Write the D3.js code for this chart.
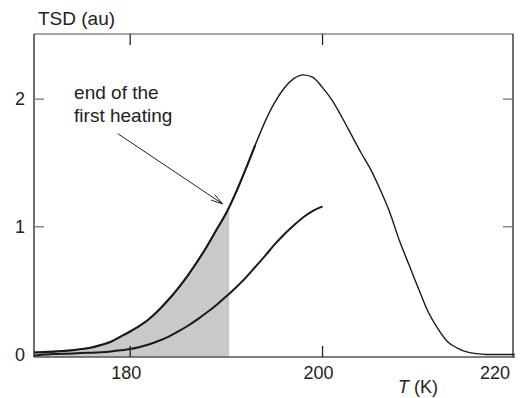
<!DOCTYPE html>
<html>
<head>
<meta charset="utf-8">
<script src="https://cdn.jsdelivr.net/npm/d3@7"></script>
<style>
  html, body { margin: 0; padding: 0; background: #fff; }
  svg { display: block; font-family: "Liberation Sans", Arial, Helvetica, sans-serif; }
</style>
</head>
<body>
<svg id="chart" width="531" height="398"></svg>
<script>
// Temperature grid (K)
const temps = [170,171,172,173,174,175,176,177,178,179,180,181,182,183,184,185,186,187,188,189,
               190,191,192,193,194,195,196,197,198,199,200,201,202,203,204,205,206,207,208,209,
               210,211,212,213,214,215,216,217,218,219,220];

// Full TSD peak (second heating), arbitrary units
const tsdFull = [0.015,0.018,0.022,0.027,0.033,0.042,0.055,0.075,0.10,0.14,0.18,0.225,0.28,0.35,0.43,0.52,0.62,0.73,0.85,0.98,
                 1.11,1.27,1.45,1.64,1.82,1.97,2.085,2.16,2.19,2.17,2.09,1.99,1.86,1.72,1.58,1.45,1.29,1.11,0.89,0.70,
                 0.51,0.33,0.20,0.10,0.05,0.02,0.006,0.0,0.0,0.0,0.0];

// TSD after the first partial heating, measured up to 200 K
const tsdPartialT = [170,171,172,173,174,175,176,177,178,179,180,181,182,183,184,185,186,187,188,189,190,191,192,193,194,195,196,197,198,199,200];
const tsdPartial = [-0.01,0.0,0.003,0.005,0.008,0.011,0.014,0.018,0.024,0.032,0.042,0.058,0.08,0.107,0.14,0.18,0.225,0.275,0.33,0.39,
                    0.455,0.525,0.60,0.685,0.77,0.86,0.94,1.01,1.075,1.125,1.16];

// End of the first heating (K)
const firstHeatingEnd = 190.3;

// Axis ticks
const xTicks = [180, 200, 220];
const yTicks = [0, 1, 2];

// Annotation: label lines and arrow (data units)
const noteLines = ["end of the", "first heating"];
const noteAnchor = {T: 174.17, v: 2.0};
const arrowFrom = {T: 178.7, v: 1.73};
const arrowTo = {T: 189.6, v: 1.18};

const svg = d3.select("#chart");
const pLeft = 34, pRight = 513, pTop = 34, pBottom = 357;

const x = d3.scaleLinear().domain([170, 219.8]).range([pLeft, pRight]);
const y = d3.scaleLinear().domain([-0.02, 2.51]).range([pBottom, pTop]);

const full = temps.map((t, i) => ({T: t, v: tsdFull[i]}));
const partial = tsdPartialT.map((t, i) => ({T: t, v: tsdPartial[i]}));

// Shaded region under the full peak, up to the end of the first heating
svg.append("clipPath").attr("id", "shadeClip")
  .append("rect")
  .attr("x", x(170)).attr("y", pTop)
  .attr("width", x(firstHeatingEnd) - x(170))
  .attr("height", pBottom - pTop);

const area = d3.area()
  .x(d => x(d.T)).y0(y(-0.02)).y1(d => y(d.v))
  .curve(d3.curveMonotoneX);

svg.append("path")
  .datum(full)
  .attr("clip-path", "url(#shadeClip)")
  .attr("fill", "#c8c9cb")
  .attr("d", area);

const line = d3.line()
  .x(d => x(d.T)).y(d => y(d.v))
  .curve(d3.curveMonotoneX);

// Full peak: thin line, heavier along the rising flank
svg.append("path")
  .datum(full)
  .attr("fill", "none").attr("stroke", "#1a1a1a")
  .attr("stroke-width", 1.4).attr("stroke-linejoin", "round")
  .attr("d", line);

svg.append("path")
  .datum(full.filter(d => d.T <= 193))
  .attr("fill", "none").attr("stroke", "#1a1a1a")
  .attr("stroke-width", 2.1).attr("stroke-linejoin", "round")
  .attr("d", line);

// Partial heating curve
svg.append("path")
  .datum(partial)
  .attr("fill", "none").attr("stroke", "#1a1a1a")
  .attr("stroke-width", 2.0).attr("stroke-linejoin", "round")
  .attr("d", line);

// Frame
svg.append("line").attr("x1", pLeft).attr("x2", pRight).attr("y1", pTop).attr("y2", pTop)
  .attr("stroke", "#8a8a8a").attr("stroke-width", 1.3);
svg.append("line").attr("x1", pLeft).attr("x2", pRight + 2).attr("y1", pBottom).attr("y2", pBottom)
  .attr("stroke", "#555").attr("stroke-width", 1.4);
svg.append("line").attr("x1", pLeft).attr("x2", pLeft).attr("y1", pTop).attr("y2", pBottom)
  .attr("stroke", "#222").attr("stroke-width", 1.3);
svg.append("line").attr("x1", pRight).attr("x2", pRight).attr("y1", pTop).attr("y2", pBottom)
  .attr("stroke", "#222").attr("stroke-width", 1.3);

const tickLen = 11;
const innerX = xTicks.filter(t => x(t) < pRight - 2);
const innerY = yTicks.filter(t => t > 0);

// x ticks, bottom and top, pointing inward
svg.selectAll(".xtb").data(innerX).enter().append("line")
  .attr("x1", d => x(d)).attr("x2", d => x(d))
  .attr("y1", pBottom).attr("y2", pBottom - tickLen)
  .attr("stroke", "#222").attr("stroke-width", 1.3);
svg.selectAll(".xtt").data(innerX).enter().append("line")
  .attr("x1", d => x(d)).attr("x2", d => x(d))
  .attr("y1", pTop).attr("y2", pTop + tickLen)
  .attr("stroke", "#222").attr("stroke-width", 1.3);

// y ticks, left and right, pointing inward
svg.selectAll(".ytl").data(innerY).enter().append("line")
  .attr("x1", pLeft).attr("x2", pLeft + 10)
  .attr("y1", d => y(d)).attr("y2", d => y(d))
  .attr("stroke", "#777").attr("stroke-width", 1.3);
svg.selectAll(".ytr").data(innerY).enter().append("line")
  .attr("x1", pRight).attr("x2", pRight - 10)
  .attr("y1", d => y(d)).attr("y2", d => y(d))
  .attr("stroke", "#777").attr("stroke-width", 1.3);

// Tick labels
svg.selectAll(".xl").data(xTicks).enter().append("text")
  .attr("x", d => x(d) < pRight - 2 ? x(d) - 4 : pRight - 3)
  .attr("y", 379)
  .attr("text-anchor", d => x(d) < pRight - 2 ? "middle" : "end")
  .attr("font-size", 18).attr("fill", "#222")
  .text(d => d);

svg.selectAll(".yl").data(yTicks).enter().append("text")
  .attr("x", 25).attr("y", d => y(d))
  .attr("dy", "0.35em")
  .attr("text-anchor", "end")
  .attr("font-size", 18).attr("fill", "#222")
  .text(d => d);

// Axis titles
svg.append("text").attr("x", 38).attr("y", 25)
  .attr("font-size", 19).attr("fill", "#222")
  .text("TSD (au)");

const xt = svg.append("text").attr("x", 398).attr("y", 393)
  .attr("font-size", 18).attr("fill", "#222");
xt.append("tspan").attr("font-style", "italic").text("T");
xt.append("tspan").text(" (K)");

// Annotation
svg.selectAll(".note").data(noteLines).enter().append("text")
  .attr("x", x(noteAnchor.T))
  .attr("y", (d, i) => y(noteAnchor.v) + i * 23)
  .attr("font-size", 19).attr("fill", "#222")
  .text(d => d);

const ax1 = x(arrowFrom.T), ay1 = y(arrowFrom.v), ax2 = x(arrowTo.T), ay2 = y(arrowTo.v);
svg.append("line")
  .attr("x1", ax1).attr("y1", ay1).attr("x2", ax2).attr("y2", ay2)
  .attr("stroke", "#222").attr("stroke-width", 1);

const ang = Math.atan2(ay2 - ay1, ax2 - ax1);
const headLen = 12, spread = 0.28;
[-spread, spread].forEach(s => {
  svg.append("line")
    .attr("x1", ax2).attr("y1", ay2)
    .attr("x2", ax2 - headLen * Math.cos(ang + s))
    .attr("y2", ay2 - headLen * Math.sin(ang + s))
    .attr("stroke", "#222").attr("stroke-width", 1);
});
</script>
</body>
</html>
